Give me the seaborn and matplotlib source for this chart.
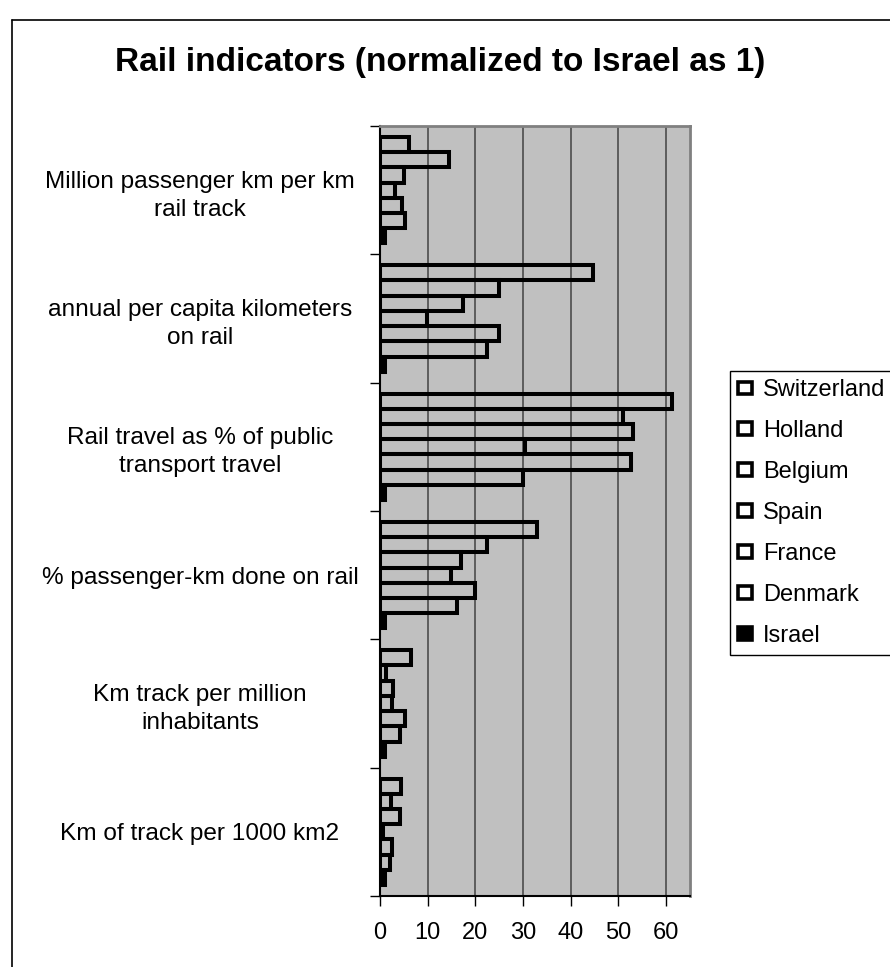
import numpy as np
import pandas as pd
import matplotlib
matplotlib.use('Agg')
import matplotlib.pyplot as plt
import seaborn as sns
from matplotlib.patches import Patch
from matplotlib.lines import Line2D

indicators = [
    "Million passenger km per km\nrail track",
    "annual per capita kilometers\non rail",
    "Rail travel as % of public\ntransport travel",
    "% passenger-km done on rail",
    "Km track per million\ninhabitants",
    "Km of track per 1000 km2",
]
countries = ["Switzerland", "Holland", "Belgium", "Spain", "France", "Denmark", "Israel"]

switzerland = [6.1, 44.6, 61.3, 32.9, 6.5, 4.5]
holland = [14.4, 24.9, 50.9, 22.5, 1.3, 2.3]
belgium = [5.1, 17.4, 53.0, 17.0, 2.7, 4.2]
spain = [3.1, 9.9, 30.3, 14.8, 2.6, 0.6]
france = [4.7, 24.9, 52.6, 19.9, 5.2, 2.5]
denmark = [5.2, 22.5, 29.9, 16.1, 4.1, 2.1]
israel = [1, 1, 1, 1, 1, 1]

series = [switzerland, holland, belgium, spain, france, denmark, israel]
rows = []
for c, vals in zip(countries, series):
    for ind, v in zip(indicators, vals):
        rows.append({"indicator": ind, "country": c, "value": v})
df = pd.DataFrame(rows)

sns.set_theme(style="white")
plt.rcParams["font.family"] = ["Liberation Sans", "DejaVu Sans"]
plt.rcParams["text.color"] = "black"
plt.rcParams["xtick.color"] = "black"
plt.rcParams["ytick.color"] = "black"
plt.rcParams["axes.labelcolor"] = "black"

W, H = 890, 967
fig = plt.figure(figsize=(W / 100, H / 100), dpi=100)
fig.patch.set_facecolor("white")
ax = fig.add_axes([380 / W, 1 - 896 / H, 310 / W, 770 / H])

pal = {c: ("black" if c == "Israel" else "white") for c in countries}
EDGE = 2.9
sns.barplot(data=df, y="indicator", x="value", hue="country", order=indicators,
            hue_order=countries, orient="h", width=0.83, palette=pal,
            edgecolor="black", linewidth=EDGE, saturation=1, legend=False, ax=ax,
            errorbar=None)

for cont, c in zip(ax.containers, countries):
    for p in cont:
        if c == "Israel":
            p.set_facecolor("black")
        else:
            p.set_facecolor("none")
        p.set_edgecolor("black")
        p.set_linewidth(EDGE)
        p.set_joinstyle("miter")

ax.set_facecolor("#C0C0C0")
ax.set_xlim(0, 65)
ax.set_ylim(5.5, -0.5)
ax.set_xlabel("")
ax.set_ylabel("")
ax.set_axisbelow(True)
ax.xaxis.grid(True, color="#555555", linewidth=1.3)
ax.yaxis.grid(False)

for s in ["left", "bottom"]:
    ax.spines[s].set_color("black")
    ax.spines[s].set_linewidth(1.5)
for s in ["top", "right"]:
    ax.spines[s].set_color("#808080")
    ax.spines[s].set_linewidth(2)

ax.set_xticks(np.arange(0, 61, 10))
ax.tick_params(axis="x", direction="out", length=7, width=1, color="black",
               labelsize=17, pad=12, bottom=True, labelcolor="black")

ax.set_yticks(np.arange(-0.5, 6.0, 1.0))
ax.set_yticklabels([])
ax.tick_params(axis="y", which="major", direction="out", length=7, width=1,
               color="black", left=True)
ax.set_yticks(range(len(indicators)), labels=indicators, minor=True)
ax.tick_params(axis="y", which="minor", length=0, pad=129.6, labelsize=17.6,
               labelcolor="black")
for lbl in ax.get_yticklabels(minor=True):
    lbl.set_ha("center")
    lbl.set_multialignment("center")
    lbl.set_linespacing(1.35)

fig.text(440 / W, 1 - 62 / H, "Rail indicators (normalized to Israel as 1)",
         ha="center", va="center", fontsize=24, fontweight="bold", color="black")

# chart frame
fig.add_artist(Line2D([12 / W, 12 / W], [0, 1 - 20 / H], transform=fig.transFigure,
                      color="black", lw=1.2))
fig.add_artist(Line2D([12 / W, 1], [1 - 20 / H, 1 - 20 / H], transform=fig.transFigure,
                      color="black", lw=1.2))

handles = [Patch(facecolor=("black" if c == "Israel" else "white"), edgecolor="black",
                 linewidth=2.6) for c in countries]
leg = fig.legend(handles, countries, loc="upper left",
                 bbox_to_anchor=(730 / W, 1 - 371 / H), bbox_transform=fig.transFigure,
                 frameon=True, fancybox=False, edgecolor="black", framealpha=1,
                 fontsize=17, handlelength=0.6, handleheight=0.45, handletextpad=0.45,
                 labelspacing=0.8, borderpad=0.35, borderaxespad=0)
leg.get_frame().set_linewidth(1)
for t in leg.get_texts():
    t.set_color("black")

fig.savefig("out.png", dpi=100)
